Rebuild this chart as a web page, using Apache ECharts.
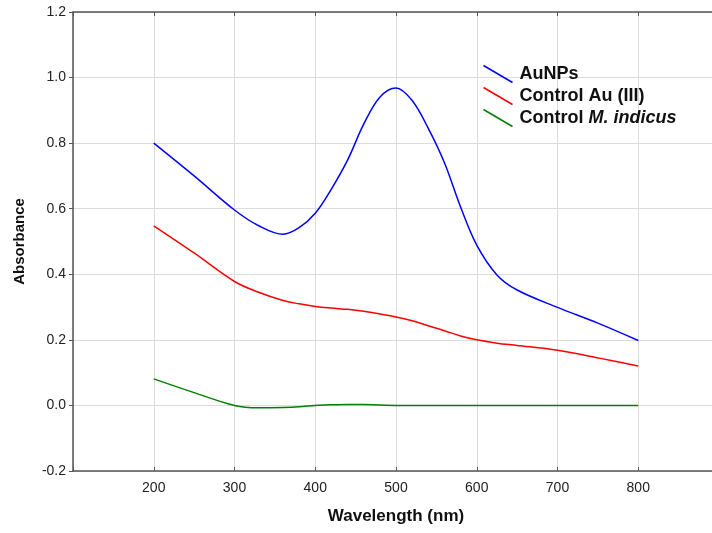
<!DOCTYPE html>
<html>
<head>
<meta charset="utf-8">
<script src="https://cdn.jsdelivr.net/npm/echarts@6/dist/echarts.min.js"></script>
<style>
  html, body { margin: 0; padding: 0; background: #fff; overflow: hidden; }
  #chart { width: 722px; height: 533px; }
</style>
</head>
<body>
<div id="chart"></div>
<script>
// wavelength (nm)
var wavelengths = [200, 250, 300, 330, 360, 380, 400, 420, 440, 460, 480, 500, 520, 540, 560, 580, 600, 625, 650, 700, 750, 800];
// absorbance
var aunps     = [0.80, 0.70, 0.596, 0.548, 0.522, 0.542, 0.586, 0.66, 0.748, 0.858, 0.94, 0.968, 0.93, 0.845, 0.74, 0.605, 0.489, 0.398, 0.352, 0.299, 0.251, 0.198];
var controlAu = [0.548, 0.465, 0.378, 0.345, 0.32, 0.31, 0.302, 0.297, 0.293, 0.287, 0.279, 0.27, 0.258, 0.243, 0.228, 0.212, 0.20, 0.19, 0.183, 0.168, 0.145, 0.12];
var controlMi = [0.081, 0.039, 0.0, -0.007, -0.006, -0.004, 0.0, 0.002, 0.003, 0.003, 0.001, 0, 0, 0, 0, 0, 0, 0, 0, 0, 0, 0];
var xTicks = [200, 300, 400, 500, 600, 700, 800];

var seriesNames = ['AuNPs', 'Control Au (III)', 'Control M. indicus'];
var seriesColors = ['#0000ff', '#ff0000', '#008000'];

function pairs(ys) {
  return wavelengths.map(function (x, i) { return [x, ys[i]]; });
}

var chart = echarts.init(document.getElementById('chart'));
var font = '"Liberation Sans", Arial, sans-serif';

chart.setOption({
  animation: false,
  grid: { left: 73, top: 12, bottom: 62, right: 0 },
  legend: {
    orient: 'vertical',
    left: 476,
    top: 58,
    itemWidth: 29,
    itemHeight: 17,
    itemGap: 0,
    icon: 'path://M0,0L29,17',
    data: seriesNames.map(function (n, i) {
      return { name: n, itemStyle: { color: 'none', borderColor: seriesColors[i], borderWidth: 1.5 } };
    }),
    formatter: function (name) {
      if (name === 'Control M. indicus') return '{b|Control }{bi|M. indicus}';
      return '{b|' + name + '}';
    },
    textStyle: {
      fontFamily: font,
      fontSize: 18,
      color: '#111',
      rich: {
        b: { fontFamily: font, fontSize: 18, fontWeight: 'bold', color: '#111', lineHeight: 18, padding: [0, 0, 0, 2] },
        bi: { fontFamily: font, fontSize: 18, fontWeight: 'bold', fontStyle: 'italic', color: '#111', lineHeight: 18 }
      }
    }
  },
  xAxis: [{
    type: 'value',
    min: 100,
    max: 900,
    interval: 100,
    name: 'Wavelength (nm)',
    nameLocation: 'middle',
    nameGap: 37,
    nameTextStyle: { fontFamily: font, fontSize: 17, fontWeight: 'bold', color: '#111' },
    axisLine: { onZero: false, lineStyle: { color: '#555', width: 1.5 } },
    axisTick: { inside: true, length: 4, lineStyle: { color: '#555' } },
    axisLabel: {
      fontFamily: font, fontSize: 14, color: '#222', margin: 10,
      formatter: function (v) { return xTicks.indexOf(v) >= 0 ? String(v) : ''; }
    },
    splitLine: { lineStyle: { color: '#dcdcdc' } }
  }, {
    type: 'value',
    position: 'top',
    min: 100,
    max: 900,
    interval: 100,
    axisLine: { show: true, onZero: false, lineStyle: { color: '#555', width: 1.5 } },
    axisTick: { inside: true, length: 4, lineStyle: { color: '#555' } },
    axisLabel: { show: false },
    splitLine: { show: false }
  }],
  yAxis: {
    type: 'value',
    min: -0.2,
    max: 1.2,
    interval: 0.2,
    name: 'Absorbance',
    nameLocation: 'middle',
    nameGap: 46,
    nameTextStyle: { fontFamily: font, fontSize: 15, fontWeight: 'bold', color: '#111' },
    axisLine: { show: true, onZero: false, lineStyle: { color: '#555', width: 1.5 } },
    axisTick: { show: true, length: 4, lineStyle: { color: '#555' } },
    axisLabel: {
      fontFamily: font, fontSize: 14, color: '#222', margin: 7,
      formatter: function (v) { return v.toFixed(1); }
    },
    splitLine: { lineStyle: { color: '#dcdcdc' } }
  },
  series: [aunps, controlAu, controlMi].map(function (ys, i) {
    return {
      name: seriesNames[i],
      type: 'line',
      smooth: 0.35,
      showSymbol: false,
      data: pairs(ys),
      itemStyle: { color: seriesColors[i] },
      lineStyle: { color: seriesColors[i], width: 1.5 }
    };
  })
});
</script>
</body>
</html>
